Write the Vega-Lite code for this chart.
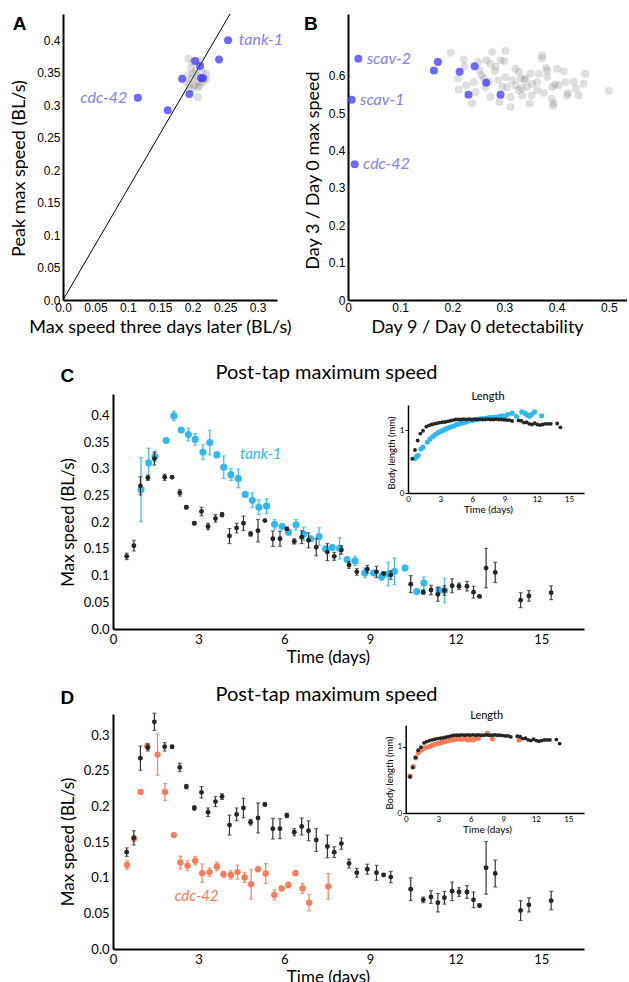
{
  "$schema": "https://vega.github.io/schema/vega-lite/v6.json",
  "padding": {"left": 10, "top": 12, "right": 0, "bottom": 0},
  "config": {
    "view": {"stroke": null},
    "font": "Lato",
    "axis": {"grid": false, "domainColor": "#000", "labelColor": "#000", "titleColor": "#000", "titleFontWeight": "normal", "labelFont": "Lato", "titleFont": "Lato", "labelFlush": false, "labelOverlap": false, "ticks": false, "domainWidth": 2}
  },
  "datasets": {
    "aLine": [{"x": 0, "y": 0}, {"x": 0.2575, "y": 0.44}],
    "aGray": [
      {"x": 0.1934, "y": 0.371}, {"x": 0.1975, "y": 0.357}, {"x": 0.2, "y": 0.348}, {"x": 0.205, "y": 0.353},
      {"x": 0.199, "y": 0.3405}, {"x": 0.2077, "y": 0.3354}, {"x": 0.2154, "y": 0.3354}, {"x": 0.2206, "y": 0.3395},
      {"x": 0.2026, "y": 0.33}, {"x": 0.2103, "y": 0.33}, {"x": 0.195, "y": 0.331}, {"x": 0.1923, "y": 0.3456},
      {"x": 0.208, "y": 0.3123}, {"x": 0.2154, "y": 0.35}, {"x": 0.19, "y": 0.3354}, {"x": 0.213, "y": 0.3687},
      {"x": 0.2, "y": 0.366}, {"x": 0.205, "y": 0.3456}, {"x": 0.2206, "y": 0.348}, {"x": 0.1975, "y": 0.325},
      {"x": 0.2077, "y": 0.327}, {"x": 0.2128, "y": 0.342}
    ],
    "aBlue": [
      {"x": 0.2545, "y": 0.3995}, {"x": 0.2406, "y": 0.37}, {"x": 0.2037, "y": 0.3677}, {"x": 0.2114, "y": 0.36},
      {"x": 0.1837, "y": 0.3405}, {"x": 0.213, "y": 0.3415}, {"x": 0.216, "y": 0.341}, {"x": 0.195, "y": 0.317},
      {"x": 0.1615, "y": 0.292}, {"x": 0.1154, "y": 0.311}
    ],
    "bGray": [
      {"x": 0.197, "y": 0.662}, {"x": 0.222, "y": 0.644}, {"x": 0.2235, "y": 0.626}, {"x": 0.211, "y": 0.593},
      {"x": 0.2267, "y": 0.575}, {"x": 0.2126, "y": 0.5635}, {"x": 0.238, "y": 0.526}, {"x": 0.2414, "y": 0.584},
      {"x": 0.2497, "y": 0.6375}, {"x": 0.2523, "y": 0.615}, {"x": 0.256, "y": 0.602}, {"x": 0.2733, "y": 0.633},
      {"x": 0.2765, "y": 0.664}, {"x": 0.2925, "y": 0.642}, {"x": 0.302, "y": 0.667}, {"x": 0.2816, "y": 0.6135},
      {"x": 0.288, "y": 0.5885}, {"x": 0.2733, "y": 0.544}, {"x": 0.2906, "y": 0.53}, {"x": 0.305, "y": 0.5705},
      {"x": 0.3117, "y": 0.517}, {"x": 0.302, "y": 0.597}, {"x": 0.3212, "y": 0.6196}, {"x": 0.3276, "y": 0.611},
      {"x": 0.3308, "y": 0.593}, {"x": 0.339, "y": 0.593}, {"x": 0.339, "y": 0.589}, {"x": 0.321, "y": 0.575},
      {"x": 0.3276, "y": 0.5617}, {"x": 0.334, "y": 0.548}, {"x": 0.35, "y": 0.606}, {"x": 0.353, "y": 0.579},
      {"x": 0.3435, "y": 0.5705}, {"x": 0.352, "y": 0.548}, {"x": 0.348, "y": 0.526}, {"x": 0.372, "y": 0.6555},
      {"x": 0.372, "y": 0.6465}, {"x": 0.3627, "y": 0.584}, {"x": 0.3818, "y": 0.615}, {"x": 0.3818, "y": 0.597},
      {"x": 0.3914, "y": 0.5705}, {"x": 0.401, "y": 0.6196}, {"x": 0.404, "y": 0.575}, {"x": 0.391, "y": 0.539},
      {"x": 0.3946, "y": 0.526}, {"x": 0.417, "y": 0.584}, {"x": 0.433, "y": 0.584}, {"x": 0.452, "y": 0.579},
      {"x": 0.455, "y": 0.606}, {"x": 0.42, "y": 0.548}, {"x": 0.4374, "y": 0.566}, {"x": 0.4425, "y": 0.548},
      {"x": 0.5, "y": 0.56}, {"x": 0.265, "y": 0.642}, {"x": 0.2956, "y": 0.5705}, {"x": 0.315, "y": 0.5885},
      {"x": 0.3117, "y": 0.544}, {"x": 0.3627, "y": 0.5617}, {"x": 0.2637, "y": 0.5705}, {"x": 0.2446, "y": 0.557},
      {"x": 0.2605, "y": 0.593}, {"x": 0.366, "y": 0.606}, {"x": 0.38, "y": 0.622}, {"x": 0.3966, "y": 0.577},
      {"x": 0.414, "y": 0.6125}, {"x": 0.422, "y": 0.5545}, {"x": 0.3927, "y": 0.52}, {"x": 0.3755, "y": 0.555},
      {"x": 0.283, "y": 0.625}, {"x": 0.333, "y": 0.568}, {"x": 0.27, "y": 0.585}, {"x": 0.3, "y": 0.64}
    ],
    "bBlue": [
      {"x": 0.0198, "y": 0.646}, {"x": 0.0071, "y": 0.5366}, {"x": 0.0128, "y": 0.3635}, {"x": 0.1724, "y": 0.6375},
      {"x": 0.1648, "y": 0.615}, {"x": 0.214, "y": 0.611}, {"x": 0.2427, "y": 0.626}, {"x": 0.265, "y": 0.582},
      {"x": 0.231, "y": 0.55}, {"x": 0.2925, "y": 0.55}
    ],
    "ctrl": [
      {"t": 0.48, "v": 0.136, "e": 0.006}, {"t": 0.73, "v": 0.156, "e": 0.01}, {"t": 0.96, "v": 0.268, "e": 0.017},
      {"t": 1.22, "v": 0.283, "e": 0.005}, {"t": 1.45, "v": 0.319, "e": 0.012}, {"t": 1.81, "v": 0.284, "e": 0.006},
      {"t": 2.07, "v": 0.284, "e": 0.002}, {"t": 2.34, "v": 0.255, "e": 0.006}, {"t": 2.57, "v": 0.228, "e": 0.003},
      {"t": 2.85, "v": 0.198, "e": 0.003}, {"t": 3.1, "v": 0.22, "e": 0.008}, {"t": 3.33, "v": 0.192, "e": 0.006},
      {"t": 3.59, "v": 0.207, "e": 0.007}, {"t": 3.82, "v": 0.214, "e": 0.004}, {"t": 4.08, "v": 0.174, "e": 0.014},
      {"t": 4.33, "v": 0.189, "e": 0.009}, {"t": 4.57, "v": 0.198, "e": 0.0135}, {"t": 4.82, "v": 0.178, "e": 0.004},
      {"t": 5.08, "v": 0.184, "e": 0.021}, {"t": 5.32, "v": 0.203, "e": 0.002}, {"t": 5.6, "v": 0.169, "e": 0.0145},
      {"t": 5.85, "v": 0.169, "e": 0.014}, {"t": 6.09, "v": 0.1875, "e": 0.003}, {"t": 6.35, "v": 0.164, "e": 0.005},
      {"t": 6.61, "v": 0.172, "e": 0.012}, {"t": 6.85, "v": 0.166, "e": 0.014}, {"t": 7.12, "v": 0.153, "e": 0.016},
      {"t": 7.51, "v": 0.144, "e": 0.016}, {"t": 7.75, "v": 0.136, "e": 0.0075}, {"t": 8.0, "v": 0.148, "e": 0.008},
      {"t": 8.27, "v": 0.12, "e": 0.0063}, {"t": 8.54, "v": 0.107, "e": 0.0063}, {"t": 8.91, "v": 0.112, "e": 0.007},
      {"t": 9.23, "v": 0.107, "e": 0.0105}, {"t": 9.48, "v": 0.104, "e": 0.002}, {"t": 9.73, "v": 0.101, "e": 0.008},
      {"t": 10.43, "v": 0.084, "e": 0.016}, {"t": 10.87, "v": 0.069, "e": 0.004}, {"t": 11.14, "v": 0.073, "e": 0.009},
      {"t": 11.38, "v": 0.065, "e": 0.013}, {"t": 11.61, "v": 0.072, "e": 0.009}, {"t": 11.88, "v": 0.081, "e": 0.013},
      {"t": 12.12, "v": 0.08, "e": 0.006}, {"t": 12.4, "v": 0.08, "e": 0.009}, {"t": 12.63, "v": 0.069, "e": 0.011},
      {"t": 12.84, "v": 0.061, "e": 0.002}, {"t": 13.07, "v": 0.114, "e": 0.037}, {"t": 13.39, "v": 0.106, "e": 0.019},
      {"t": 14.28, "v": 0.054, "e": 0.014}, {"t": 14.57, "v": 0.062, "e": 0.01}, {"t": 15.35, "v": 0.068, "e": 0.013}
    ],
    "tank": [
      {"t": 0.98, "v": 0.261, "e": 0.06}, {"t": 1.25, "v": 0.311, "e": 0.0275}, {"t": 1.47, "v": 0.323, "e": 0.01},
      {"t": 1.86, "v": 0.353, "e": 0.003}, {"t": 2.13, "v": 0.399, "e": 0.009}, {"t": 2.39, "v": 0.3725, "e": 0.003},
      {"t": 2.64, "v": 0.364, "e": 0.012}, {"t": 2.88, "v": 0.355, "e": 0.011}, {"t": 3.15, "v": 0.331, "e": 0.014},
      {"t": 3.39, "v": 0.349, "e": 0.023}, {"t": 3.64, "v": 0.326, "e": 0.005}, {"t": 3.88, "v": 0.303, "e": 0.021},
      {"t": 4.13, "v": 0.289, "e": 0.011}, {"t": 4.39, "v": 0.282, "e": 0.0175}, {"t": 4.63, "v": 0.252, "e": 0.003},
      {"t": 4.88, "v": 0.241, "e": 0.014}, {"t": 5.11, "v": 0.228, "e": 0.014}, {"t": 5.38, "v": 0.23, "e": 0.014},
      {"t": 5.66, "v": 0.196, "e": 0.009}, {"t": 5.92, "v": 0.192, "e": 0.004}, {"t": 6.15, "v": 0.181, "e": 0.005},
      {"t": 6.41, "v": 0.195, "e": 0.01}, {"t": 6.68, "v": 0.178, "e": 0.0125}, {"t": 6.92, "v": 0.169, "e": 0.005},
      {"t": 7.22, "v": 0.173, "e": 0.0165}, {"t": 7.45, "v": 0.15, "e": 0.004}, {"t": 7.68, "v": 0.1525, "e": 0.005},
      {"t": 7.94, "v": 0.151, "e": 0.02}, {"t": 8.2, "v": 0.13, "e": 0.004}, {"t": 8.48, "v": 0.1275, "e": 0.009},
      {"t": 8.82, "v": 0.105, "e": 0.009}, {"t": 9.13, "v": 0.105, "e": 0.004}, {"t": 9.41, "v": 0.098, "e": 0.007},
      {"t": 9.64, "v": 0.103, "e": 0.0225}, {"t": 9.86, "v": 0.108, "e": 0.025}, {"t": 10.23, "v": 0.114, "e": 0.005},
      {"t": 10.64, "v": 0.07, "e": 0.004}, {"t": 10.89, "v": 0.086, "e": 0.0115}, {"t": 11.42, "v": 0.073, "e": 0.005},
      {"t": 11.62, "v": 0.072, "e": 0.023}
    ],
    "cdc": [
      {"t": 0.49, "v": 0.118, "e": 0.006}, {"t": 0.74, "v": 0.155, "e": 0.004}, {"t": 0.97, "v": 0.2206, "e": 0.003},
      {"t": 1.2, "v": 0.285, "e": 0.004}, {"t": 1.56, "v": 0.273, "e": 0.029}, {"t": 1.82, "v": 0.2206, "e": 0.012},
      {"t": 2.13, "v": 0.16, "e": 0.003}, {"t": 2.36, "v": 0.1215, "e": 0.009}, {"t": 2.61, "v": 0.117, "e": 0.007},
      {"t": 2.88, "v": 0.124, "e": 0.006}, {"t": 3.12, "v": 0.1065, "e": 0.013}, {"t": 3.38, "v": 0.108, "e": 0.006},
      {"t": 3.64, "v": 0.116, "e": 0.006}, {"t": 3.87, "v": 0.105, "e": 0.004}, {"t": 4.13, "v": 0.104, "e": 0.006},
      {"t": 4.36, "v": 0.108, "e": 0.01}, {"t": 4.61, "v": 0.1005, "e": 0.007}, {"t": 4.84, "v": 0.091, "e": 0.021},
      {"t": 5.08, "v": 0.112, "e": 0.003}, {"t": 5.35, "v": 0.106, "e": 0.014}, {"t": 5.65, "v": 0.076, "e": 0.007},
      {"t": 5.91, "v": 0.085, "e": 0.003}, {"t": 6.14, "v": 0.09, "e": 0.004}, {"t": 6.39, "v": 0.1065, "e": 0.003},
      {"t": 6.64, "v": 0.085, "e": 0.007}, {"t": 6.87, "v": 0.065, "e": 0.0115}, {"t": 7.54, "v": 0.088, "e": 0.018}
    ],
    "lenCtrl": [
      {"t": 0.4, "L": 0.545}, {"t": 0.65, "L": 0.685}, {"t": 0.9, "L": 0.835}, {"t": 1.15, "L": 0.945}, {"t": 1.4, "L": 0.99},
      {"t": 1.7, "L": 1.055}, {"t": 1.95, "L": 1.075}, {"t": 2.2, "L": 1.09}, {"t": 2.45, "L": 1.1}, {"t": 2.7, "L": 1.11},
      {"t": 2.95, "L": 1.12}, {"t": 3.2, "L": 1.125}, {"t": 3.45, "L": 1.13}, {"t": 3.7, "L": 1.14}, {"t": 3.95, "L": 1.15},
      {"t": 4.2, "L": 1.16}, {"t": 4.45, "L": 1.17}, {"t": 4.7, "L": 1.17}, {"t": 4.95, "L": 1.17}, {"t": 5.2, "L": 1.175},
      {"t": 5.45, "L": 1.17}, {"t": 5.7, "L": 1.175}, {"t": 5.95, "L": 1.17}, {"t": 6.2, "L": 1.175}, {"t": 6.45, "L": 1.17},
      {"t": 6.7, "L": 1.175}, {"t": 6.95, "L": 1.17}, {"t": 7.2, "L": 1.17}, {"t": 7.45, "L": 1.175}, {"t": 7.7, "L": 1.17},
      {"t": 7.95, "L": 1.17}, {"t": 8.2, "L": 1.175}, {"t": 8.45, "L": 1.17}, {"t": 8.7, "L": 1.17}, {"t": 8.95, "L": 1.165},
      {"t": 9.2, "L": 1.16}, {"t": 9.45, "L": 1.16}, {"t": 9.7, "L": 1.145}, {"t": 10.3, "L": 1.155}, {"t": 10.55, "L": 1.15},
      {"t": 10.8, "L": 1.12}, {"t": 11.05, "L": 1.125}, {"t": 11.3, "L": 1.1}, {"t": 11.55, "L": 1.09}, {"t": 11.8, "L": 1.11},
      {"t": 12.05, "L": 1.09}, {"t": 12.3, "L": 1.08}, {"t": 12.55, "L": 1.09}, {"t": 12.8, "L": 1.1}, {"t": 13.05, "L": 1.1},
      {"t": 13.3, "L": 1.1}, {"t": 13.9, "L": 1.105}, {"t": 14.2, "L": 1.045}
    ],
    "lenTank": [
      {"t": 0.65, "L": 0.55}, {"t": 0.8, "L": 0.58}, {"t": 0.95, "L": 0.6}, {"t": 1.2, "L": 0.7}, {"t": 1.4, "L": 0.73},
      {"t": 1.8, "L": 0.81}, {"t": 2.05, "L": 0.86}, {"t": 2.3, "L": 0.9}, {"t": 2.55, "L": 0.93}, {"t": 2.8, "L": 0.96},
      {"t": 3.05, "L": 0.98}, {"t": 3.3, "L": 1.0}, {"t": 3.55, "L": 1.02}, {"t": 3.8, "L": 1.04}, {"t": 4.05, "L": 1.055},
      {"t": 4.3, "L": 1.07}, {"t": 4.55, "L": 1.09}, {"t": 4.8, "L": 1.1}, {"t": 5.05, "L": 1.115}, {"t": 5.3, "L": 1.125},
      {"t": 5.55, "L": 1.14}, {"t": 5.8, "L": 1.15}, {"t": 6.05, "L": 1.155}, {"t": 6.3, "L": 1.165}, {"t": 6.55, "L": 1.175},
      {"t": 6.8, "L": 1.18}, {"t": 7.05, "L": 1.185}, {"t": 7.3, "L": 1.19}, {"t": 7.55, "L": 1.2}, {"t": 7.8, "L": 1.2},
      {"t": 8.05, "L": 1.21}, {"t": 8.3, "L": 1.21}, {"t": 8.55, "L": 1.22}, {"t": 8.8, "L": 1.23}, {"t": 9.05, "L": 1.22},
      {"t": 9.3, "L": 1.25}, {"t": 9.7, "L": 1.27}, {"t": 10.1, "L": 1.22}, {"t": 10.6, "L": 1.29}, {"t": 10.9, "L": 1.27},
      {"t": 11.1, "L": 1.24}, {"t": 11.3, "L": 1.22}, {"t": 11.5, "L": 1.25}, {"t": 11.8, "L": 1.29}, {"t": 12.45, "L": 1.23}
    ],
    "lenCdc": [
      {"t": 0.4, "L": 0.555}, {"t": 0.7, "L": 0.7}, {"t": 0.95, "L": 0.83}, {"t": 1.17, "L": 0.905}, {"t": 1.45, "L": 0.95},
      {"t": 1.7, "L": 0.975}, {"t": 1.95, "L": 0.99}, {"t": 2.2, "L": 1.0}, {"t": 2.45, "L": 1.02}, {"t": 2.7, "L": 1.035},
      {"t": 2.95, "L": 1.045}, {"t": 3.2, "L": 1.055}, {"t": 3.45, "L": 1.07}, {"t": 3.7, "L": 1.08}, {"t": 3.95, "L": 1.09},
      {"t": 4.2, "L": 1.1}, {"t": 4.45, "L": 1.105}, {"t": 4.7, "L": 1.11}, {"t": 4.95, "L": 1.115}, {"t": 5.2, "L": 1.11},
      {"t": 5.45, "L": 1.12}, {"t": 5.7, "L": 1.1}, {"t": 5.95, "L": 1.11}, {"t": 6.2, "L": 1.1}, {"t": 6.45, "L": 1.12},
      {"t": 6.7, "L": 1.13}, {"t": 7.54, "L": 1.2}, {"t": 8.0, "L": 1.115}, {"t": 10.46, "L": 1.1}
    ]
  },
  "spacing": 85,
  "bounds": "flush",
  "vconcat": [
    {
      "width": 564,
      "height": 295,
      "resolve": {"scale": {"x": "independent", "y": "independent"}, "axis": {"x": "independent", "y": "independent"}},
      "layer": [
        {
          "encoding": {
            "x": {"field": "x", "type": "quantitative", "scale": {"domain": [0, 0.33], "range": [0, 214], "nice": false, "zero": false},
              "axis": {"orient": "bottom", "offset": -9, "title": "Max speed three days later (BL/s)", "titleX": 97, "values": [0, 0.05, 0.1, 0.15, 0.2, 0.25, 0.3], "labelExpr": "datum.value === 0 ? '0.0' : format(datum.value, '~g')", "labelFont": "Liberation Sans", "labelFontSize": 12, "titleFontSize": 18, "labelPadding": 2, "titlePadding": 5}},
            "y": {"field": "y", "type": "quantitative", "scale": {"domain": [0, 0.44], "range": [286, 0], "nice": false, "zero": false},
              "axis": {"orient": "left", "title": "Peak max speed (BL/s)", "titleY": 154, "values": [0, 0.05, 0.1, 0.15, 0.2, 0.25, 0.3, 0.35, 0.4], "labelExpr": "datum.value === 0 ? '0.0' : format(datum.value, '~g')", "labelFont": "Liberation Sans", "labelFontSize": 12, "titleFontSize": 18, "labelPadding": 3, "titlePadding": 8}}
          },
          "layer": [
            {"data": {"name": "aLine"}, "mark": {"type": "line", "color": "#000", "strokeWidth": 1}},
            {"data": {"name": "aGray"}, "mark": {"type": "circle", "size": 64, "color": "#808080", "opacity": 0.25}},
            {"data": {"name": "aBlue"}, "mark": {"type": "circle", "size": 64, "color": "#4040ff", "opacity": 0.78}},
            {"data": {"values": [{"x": 0.271, "y": 0.3995, "label": "tank-1"}]}, "mark": {"type": "text", "align": "left", "baseline": "middle", "font": "Lato", "fontStyle": "italic", "fontSize": 16, "color": "#8080ff"}, "encoding": {"text": {"field": "label"}}},
            {"data": {"values": [{"x": 0.099, "y": 0.311, "label": "cdc-42"}]}, "mark": {"type": "text", "align": "right", "baseline": "middle", "font": "Lato", "fontStyle": "italic", "fontSize": 16, "color": "#8080ff"}, "encoding": {"text": {"field": "label"}}},
            {"data": {"values": [{"x": -0.0774, "y": 0.415, "label": "A"}]}, "mark": {"type": "text", "align": "left", "baseline": "alphabetic", "font": "Liberation Sans", "fontWeight": "bold", "fontSize": 19, "color": "#000"}, "encoding": {"text": {"field": "label"}}}
          ]
        },
        {
          "encoding": {
            "x": {"field": "x", "type": "quantitative", "scale": {"domain": [0, 0.535], "range": [285, 564], "nice": false, "zero": false},
              "axis": {"orient": "bottom", "offset": -9, "title": "Day 9 / Day 0 detectability", "titleX": 414, "values": [0, 0.1, 0.2, 0.3, 0.4, 0.5], "labelExpr": "format(datum.value, '~g')", "labelFont": "Liberation Sans", "labelFontSize": 12, "titleFontSize": 18, "labelPadding": 2, "titlePadding": 5}},
            "y": {"field": "y", "type": "quantitative", "scale": {"domain": [0, 0.766], "range": [286, 0], "nice": false, "zero": false},
              "axis": {"orient": "left", "offset": -285, "title": "Day 3 / Day 0 max speed", "titleY": 156, "values": [0, 0.1, 0.2, 0.3, 0.4, 0.5, 0.6], "labelExpr": "format(datum.value, '~g')", "labelFont": "Liberation Sans", "labelFontSize": 12, "titleFontSize": 18, "labelPadding": 3, "titlePadding": 6}}
          },
          "layer": [
            {"data": {"name": "bGray"}, "mark": {"type": "circle", "size": 64, "color": "#808080", "opacity": 0.25}},
            {"data": {"name": "bBlue"}, "mark": {"type": "circle", "size": 64, "color": "#4040ff", "opacity": 0.78}},
            {"data": {"values": [{"x": 0.0358, "y": 0.646, "label": "scav-2"}, {"x": 0.023, "y": 0.5366, "label": "scav-1"}, {"x": 0.0287, "y": 0.3635, "label": "cdc-42"}]}, "mark": {"type": "text", "align": "left", "baseline": "middle", "font": "Lato", "fontStyle": "italic", "fontSize": 16, "color": "#8080ff"}, "encoding": {"text": {"field": "label"}}},
            {"data": {"values": [{"x": -0.0843, "y": 0.7225, "label": "B"}]}, "mark": {"type": "text", "align": "left", "baseline": "alphabetic", "font": "Liberation Sans", "fontWeight": "bold", "fontSize": 19, "color": "#000"}, "encoding": {"text": {"field": "label"}}}
          ]
        }
      ]
    },
    {
      "width": 521,
      "height": 235,
      "title": {"text": "Post-tap maximum speed", "font": "Lato", "fontSize": 20, "fontWeight": "normal", "anchor": "middle", "offset": -16, "dx": 3, "color": "#000"},
      "resolve": {"scale": {"x": "independent", "y": "independent"}, "axis": {"x": "independent", "y": "independent"}},
      "layer": [
        {
          "encoding": {
            "x": {"field": "t", "type": "quantitative", "scale": {"domain": [0, 16.5], "range": [50, 521], "nice": false, "zero": false},
              "axis": {"orient": "bottom", "title": "Time (days)", "titleX": 265, "values": [0, 3, 6, 9, 12, 15], "labelFontSize": 13, "titleFontSize": 17, "labelPadding": 4, "titlePadding": 3}},
            "y": {"field": "v", "type": "quantitative", "scale": {"domain": [0, 0.44], "nice": false, "zero": false},
              "axis": {"orient": "left", "offset": -50, "title": "Max speed (BL/s)", "titleY": 128, "values": [0, 0.05, 0.1, 0.15, 0.2, 0.25, 0.3, 0.35, 0.4], "labelExpr": "datum.value === 0 ? '0.0' : format(datum.value, '~g')", "labelFontSize": 13, "titleFontSize": 17, "labelPadding": 4, "titlePadding": 6}}
          },
          "layer": [
            {"data": {"name": "tank"}, "mark": {"type": "errorbar", "ticks": true, "size": 4, "thickness": 1.2, "color": "#2fb8f2"}, "encoding": {"yError": {"field": "e"}}},
            {"data": {"name": "tank"}, "mark": {"type": "circle", "size": 50, "color": "#2fb8f2", "opacity": 1}},
            {"data": {"name": "ctrl"}, "mark": {"type": "errorbar", "ticks": true, "size": 4, "thickness": 1.2, "color": "#333"}, "encoding": {"yError": {"field": "e"}}},
            {"data": {"name": "ctrl"}, "mark": {"type": "circle", "size": 24, "color": "#262626", "opacity": 1}},
            {"data": {"values": [{"t": 4.45, "v": 0.328, "label": "tank-1"}]}, "mark": {"type": "text", "align": "left", "baseline": "middle", "font": "Lato", "fontStyle": "italic", "fontSize": 15, "color": "#2fb8f2"}, "encoding": {"text": {"field": "label"}}},
            {"data": {"values": [{"t": -1.835, "v": 0.4626, "label": "C"}]}, "mark": {"type": "text", "align": "left", "baseline": "alphabetic", "font": "Liberation Sans", "fontWeight": "bold", "fontSize": 19, "color": "#000"}, "encoding": {"text": {"field": "label"}}}
          ]
        },
        {
          "encoding": {
            "x": {"field": "t", "type": "quantitative", "scale": {"domain": [0, 16.4], "range": [345, 521], "nice": false, "zero": false},
              "axis": {"orient": "bottom", "offset": -136, "title": "Time (days)", "titleX": 425, "values": [0, 3, 6, 9, 12, 15], "labelFontSize": 8, "titleFontSize": 10, "domainWidth": 1.5, "labelPadding": 2, "titlePadding": 1}},
            "y": {"field": "L", "type": "quantitative", "scale": {"domain": [0, 1.4], "range": [99, 11], "nice": false, "zero": false},
              "axis": {"orient": "left", "offset": -345, "title": "Body length (mm)", "titleY": 58.5, "values": [0, 1], "labelExpr": "format(datum.value, '~g')", "labelFontSize": 8, "titleFontSize": 9.5, "domainWidth": 1.5, "ticks": true, "tickSize": 3, "tickColor": "#000", "labelPadding": 1, "titlePadding": 3}}
          },
          "layer": [
            {"data": {"name": "lenTank"}, "mark": {"type": "circle", "size": 26, "color": "#2fb8f2", "opacity": 1}},
            {"data": {"name": "lenCtrl"}, "mark": {"type": "circle", "size": 15, "color": "#262626", "opacity": 1}},
            {"data": {"values": [{"t": 7.46, "L": 1.526, "label": "Length"}]}, "mark": {"type": "text", "align": "center", "baseline": "middle", "font": "Lato", "fontSize": 11, "color": "#000"}, "encoding": {"text": {"field": "label"}}}
          ]
        }
      ]
    },
    {
      "width": 521,
      "height": 235,
      "title": {"text": "Post-tap maximum speed", "font": "Lato", "fontSize": 20, "fontWeight": "normal", "anchor": "middle", "offset": -16, "dx": 3, "color": "#000"},
      "resolve": {"scale": {"x": "independent", "y": "independent"}, "axis": {"x": "independent", "y": "independent"}},
      "layer": [
        {
          "encoding": {
            "x": {"field": "t", "type": "quantitative", "scale": {"domain": [0, 16.5], "range": [50, 521], "nice": false, "zero": false},
              "axis": {"orient": "bottom", "title": "Time (days)", "titleX": 265, "values": [0, 3, 6, 9, 12, 15], "labelFontSize": 13, "titleFontSize": 17, "labelPadding": 4, "titlePadding": 3}},
            "y": {"field": "v", "type": "quantitative", "scale": {"domain": [0, 0.33], "nice": false, "zero": false},
              "axis": {"orient": "left", "offset": -50, "title": "Max speed (BL/s)", "titleY": 127.5, "values": [0, 0.05, 0.1, 0.15, 0.2, 0.25, 0.3], "labelExpr": "datum.value === 0 ? '0.0' : format(datum.value, '~g')", "labelFontSize": 13, "titleFontSize": 17, "labelPadding": 4, "titlePadding": 6}}
          },
          "layer": [
            {"data": {"name": "cdc"}, "mark": {"type": "errorbar", "ticks": true, "size": 4, "thickness": 1.2, "color": "#fb7a57"}, "encoding": {"yError": {"field": "e"}}},
            {"data": {"name": "cdc"}, "mark": {"type": "circle", "size": 40, "color": "#fb7a57", "opacity": 1}},
            {"data": {"name": "ctrl"}, "mark": {"type": "errorbar", "ticks": true, "size": 4, "thickness": 1.2, "color": "#333"}, "encoding": {"yError": {"field": "e"}}},
            {"data": {"name": "ctrl"}, "mark": {"type": "circle", "size": 24, "color": "#262626", "opacity": 1}},
            {"data": {"values": [{"t": 2.16, "v": 0.0738, "label": "cdc-42"}]}, "mark": {"type": "text", "align": "left", "baseline": "middle", "font": "Lato", "fontStyle": "italic", "fontSize": 15, "color": "#fb7a57"}, "encoding": {"text": {"field": "label"}}},
            {"data": {"values": [{"t": -1.835, "v": 0.344, "label": "D"}]}, "mark": {"type": "text", "align": "left", "baseline": "alphabetic", "font": "Liberation Sans", "fontWeight": "bold", "fontSize": 19, "color": "#000"}, "encoding": {"text": {"field": "label"}}}
          ]
        },
        {
          "encoding": {
            "x": {"field": "t", "type": "quantitative", "scale": {"domain": [0, 16.45], "range": [342.7, 521], "nice": false, "zero": false},
              "axis": {"orient": "bottom", "offset": -136, "title": "Time (days)", "titleX": 424, "values": [0, 3, 6, 9, 12, 15], "labelFontSize": 8, "titleFontSize": 10, "domainWidth": 1.5, "labelPadding": 2, "titlePadding": 1}},
            "y": {"field": "L", "type": "quantitative", "scale": {"domain": [0, 1.32], "range": [99, 11.3], "nice": false, "zero": false},
              "axis": {"orient": "left", "offset": -342.7, "title": "Body length (mm)", "titleY": 58.5, "values": [0, 1], "labelExpr": "format(datum.value, '~g')", "labelFontSize": 8, "titleFontSize": 9.5, "domainWidth": 1.5, "ticks": true, "tickSize": 3, "tickColor": "#000", "labelPadding": 1, "titlePadding": 3}}
          },
          "layer": [
            {"data": {"name": "lenCdc"}, "mark": {"type": "circle", "size": 26, "color": "#fb7a57", "opacity": 1}},
            {"data": {"name": "lenCtrl"}, "mark": {"type": "circle", "size": 15, "color": "#262626", "opacity": 1}},
            {"data": {"values": [{"t": 7.47, "L": 1.456, "label": "Length"}]}, "mark": {"type": "text", "align": "center", "baseline": "middle", "font": "Lato", "fontSize": 11, "color": "#000"}, "encoding": {"text": {"field": "label"}}}
          ]
        }
      ]
    }
  ]
}
